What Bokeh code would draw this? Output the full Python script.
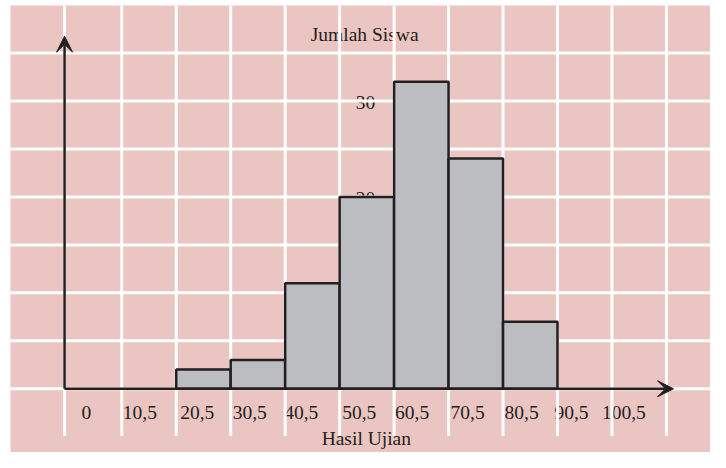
from bokeh.plotting import figure
from bokeh.models import Range1d, Arrow, VeeHead, ColumnDataSource
from bokeh.core.properties import value
from bokeh.embed import file_html
from bokeh.resources import INLINE

# ---- data ----
edges = [20.5, 30.5, 40.5, 50.5, 60.5, 70.5, 80.5, 90.5]
freq = [2, 3, 11, 20, 32, 24, 7]
tick_values = [0, 10.5, 20.5, 30.5, 40.5, 50.5, 60.5, 70.5, 80.5, 90.5, 100.5]
tick_labels = ["0", "10,5", "20,5", "30,5", "40,5", "50,5", "60,5", "70,5", "80,5", "90,5", "100,5"]
y_label_values = [30, 20]
y_label_texts = ["30", "20"]
grid_x = [0, 10.5, 20.5, 30.5, 40.5, 50.5, 60.5, 70.5, 80.5, 90.5, 100.5, 110.5]
grid_y = [0, 5, 10, 15, 20, 25, 30, 35]
x_title = "Hasil Ujian"
y_title = "Jumlah Siswa"

PINK = "#EBC5C1"
BAR = "#BCBDC0"
INK = "#231f20"
FONT = value("Liberation Serif")
FS = "19.5px"

X0, X1 = -9.925, 118.59
Y0, Y1 = -6.64, 39.95

p = figure(width=710, height=452, output_backend="svg", toolbar_location=None,
           x_range=Range1d(X0, X1), y_range=Range1d(Y0, Y1),
           x_axis_location=None, y_axis_location=None,
           min_border_left=10, min_border_right=0, min_border_top=5, min_border_bottom=0)
p.grid.visible = False
p.outline_line_color = None
p.background_fill_color = PINK
p.border_fill_color = "white"

# texts (drawn below the grid, as in the reference)
p.text(x=[55.1], y=[36.95], text=[y_title], text_font=FONT, text_font_size=FS,
       text_color=INK, text_align="center", text_baseline="alphabetic")
p.text(x=[50.5] * len(y_label_values), y=y_label_values, text=y_label_texts,
       text_font=FONT, text_font_size=FS, text_color=INK,
       text_align="left", text_baseline="alphabetic", x_offset=16, y_offset=2)
tick_src = ColumnDataSource(dict(x=tick_values, y=[0] * len(tick_values), t=tick_labels,
                                 xo=[17, 1, 4, 2, -1, 2.5, 1, 2, 1.5, -3, -10]))
p.text(x="x", y="y", text="t", source=tick_src, text_font=FONT, text_font_size=FS,
       text_color=INK, text_align="left", text_baseline="alphabetic",
       x_offset="xo", y_offset=24)
p.text(x=[55.4], y=[-5.13], text=[x_title], text_font=FONT, text_font_size=FS,
       text_color=INK, text_align="center", text_baseline="alphabetic")

# white grid
p.segment(x0=grid_x, y0=[-4.93] * len(grid_x), x1=grid_x, y1=[Y1] * len(grid_x),
          line_color="white", line_width=3)
p.segment(x0=[X0] * len(grid_y), y0=grid_y, x1=[X1] * len(grid_y), y1=grid_y,
          line_color="white", line_width=3)

# histogram bars
p.quad(left=edges[:-1], right=edges[1:], bottom=[0] * len(freq), top=freq,
       fill_color=BAR, line_color=INK, line_width=2.5)

# axes with arrows
p.add_layout(Arrow(x_start=0, y_start=0, x_end=0, y_end=36.75, line_color=INK, line_width=2.5,
                   end=VeeHead(size=16, fill_color=INK, line_color=INK, line_width=1)))
p.add_layout(Arrow(x_start=0, y_start=0, x_end=111.8, y_end=0, line_color=INK, line_width=2.5,
                   end=VeeHead(size=16, fill_color=INK, line_color=INK, line_width=1)))

open("out.html", "w").write(file_html(p, INLINE))
